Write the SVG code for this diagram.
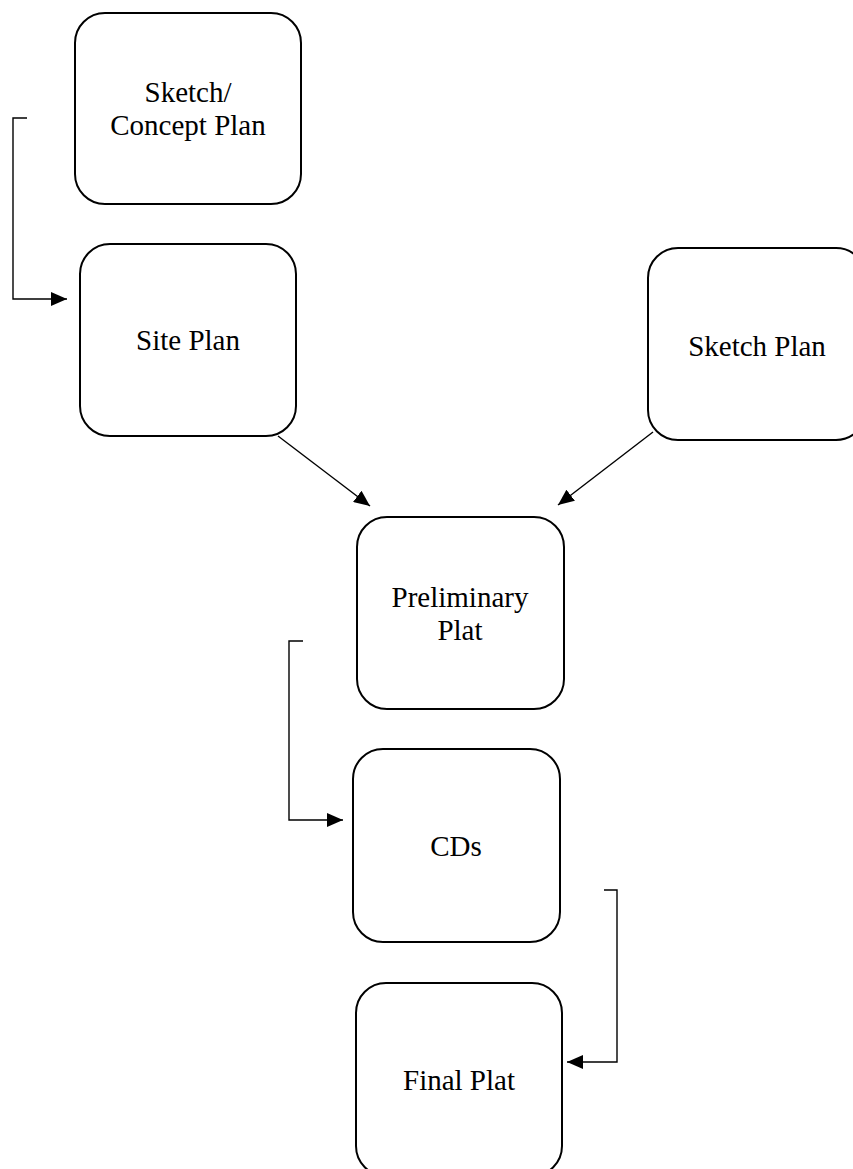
<svg xmlns="http://www.w3.org/2000/svg" width="853" height="1169" viewBox="0 0 853 1169">
<style>
.box{fill:#fff;stroke:#000;stroke-width:2}
.lbl{font-family:"Liberation Serif","Times New Roman",serif;font-size:29px;fill:#000;text-anchor:middle}
.conn{fill:none;stroke:#000;stroke-width:1.4}
</style>
<defs>
<marker id="arr" viewBox="0 0 16 14" refX="16" refY="7" markerWidth="16" markerHeight="14" markerUnits="userSpaceOnUse" orient="auto">
<path d="M0,0 L16,7 L0,14 Z" fill="#000"/>
</marker>
</defs>
<rect width="853" height="1169" fill="#fff"/>
<g id="connectors">
<path class="conn" d="M27,118 H13 V299 H67" marker-end="url(#arr)"/>
<path class="conn" d="M278,436 L370,506" marker-end="url(#arr)"/>
<path class="conn" d="M653,432 L558,505" marker-end="url(#arr)"/>
<path class="conn" d="M303,641 H289 V820 H343" marker-end="url(#arr)"/>
<path class="conn" d="M604,890 H617 V1062 H567" marker-end="url(#arr)"/>
</g>
<g id="node-sketch-concept">
<rect class="box" x="75" y="13" width="226" height="191" rx="30" ry="30"/>
<text class="lbl" x="188" y="102">Sketch/</text>
<text class="lbl" x="188" y="135">Concept Plan</text>
</g>
<g id="node-site-plan">
<rect class="box" x="80" y="244" width="216" height="192" rx="30" ry="30"/>
<text class="lbl" x="188" y="350">Site Plan</text>
</g>
<g id="node-sketch-plan">
<rect class="box" x="648" y="248" width="218" height="192" rx="30" ry="30"/>
<text class="lbl" x="757" y="356">Sketch Plan</text>
</g>
<g id="node-preliminary-plat">
<rect class="box" x="357" y="517" width="207" height="192" rx="30" ry="30"/>
<text class="lbl" x="460" y="607">Preliminary</text>
<text class="lbl" x="460" y="640">Plat</text>
</g>
<g id="node-cds">
<rect class="box" x="353" y="749" width="207" height="193" rx="30" ry="30"/>
<text class="lbl" x="456" y="856">CDs</text>
</g>
<g id="node-final-plat">
<rect class="box" x="356" y="983" width="206" height="193" rx="30" ry="30"/>
<text class="lbl" x="459" y="1090">Final Plat</text>
</g>
</svg>
